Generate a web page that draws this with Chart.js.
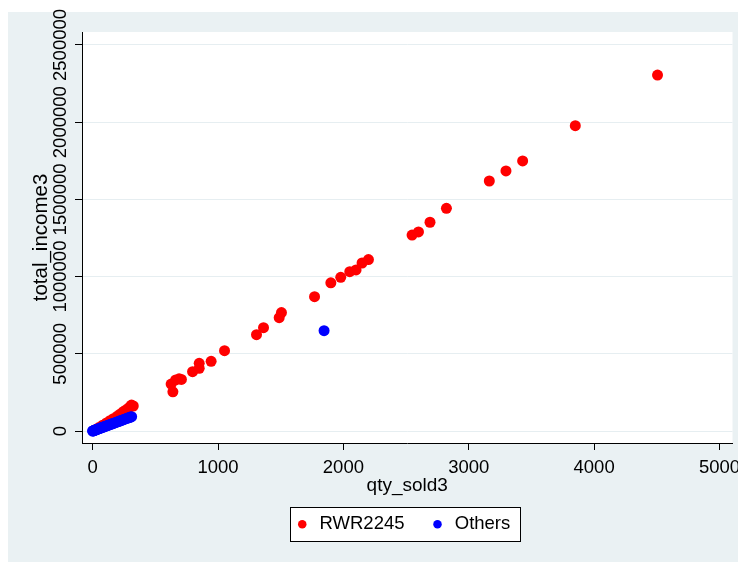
<!DOCTYPE html>
<html>
<head>
<meta charset="utf-8">
<script src="https://cdn.jsdelivr.net/npm/chart.js@4/dist/chart.umd.min.js"></script>
<style>
  html, body { margin: 0; padding: 0; background: #fff; }
  #c { display: block; }
</style>
</head>
<body>
<canvas id="c" width="738" height="562"></canvas>
<script>
// tick values
const xTicks = [0, 1000, 2000, 3000, 4000, 5000];
const yTicks = [0, 500000, 1000000, 1500000, 2000000, 2500000];

// RWR2245 (red)
const rwrQty = [4506, 3850, 3430, 3297, 3164, 2822, 2691, 2599, 2548, 2200,
    2149, 2101, 2051, 1979, 1900, 1770, 1506, 1488, 1363, 1307,
    1052, 945, 850, 850, 797, 708, 690, 662, 640, 626,
    324, 310, 300, 284, 262, 244, 220, 195, 165, 138,
    110, 80, 50, 20];
const rwrIncome = [2305000, 1977000, 1749000, 1684000, 1619000, 1442000, 1352000, 1289000, 1269000, 1110000,
    1088000, 1043000, 1032000, 995000, 960000, 870000, 767000, 734000, 669000, 624000,
    520000, 451000, 438000, 406000, 384000, 334000, 338000, 331000, 254000, 304000,
    162000, 168000, 158000, 147000, 134000, 125000, 110000, 95000, 80000, 67000,
    52000, 38000, 22000, 8000];

// Others (blue)
const otherQty = [0, 2, 5, 8, 12, 16, 20, 25, 30, 35,
    41, 48, 55, 62, 70, 78, 86, 95, 104, 113,
    122, 131, 140, 150, 160, 170, 180, 190, 200, 210,
    220, 232, 244, 256, 268, 280, 292, 302, 311, 1846];
const otherIncome = [0, 500, 1400, 2300, 3500, 4700, 6000, 7400, 9000, 10500,
    12300, 14500, 16400, 18700, 21000, 23500, 25800, 28400, 31300, 33800,
    36500, 39400, 42000, 45000, 48000, 51000, 54000, 57000, 60000, 63000,
    66000, 69500, 73000, 76800, 80500, 84000, 87500, 90500, 92600, 649600];

const FONT = "'Liberation Sans', Arial, sans-serif";

function toPoints(xs, ys) {
    return xs.map((x, i) => ({x: x, y: ys[i]}));
}

// graph region, white plot region and the legend frame
const backdrop = {
    id: 'backdrop',
    afterUpdate(chart) {
        // nudge the legend a little to the left, like the original
        const lg = chart.legend;
        if (!lg) return;
        lg.left -= 5;
        lg.right -= 5;
        lg.legendHitBoxes.forEach(h => { h.left -= 5; });
    },
    beforeDraw(chart) {
        const ctx = chart.ctx;
        const a = chart.chartArea;
        ctx.save();
        ctx.fillStyle = '#ffffff';
        ctx.fillRect(0, 0, chart.width, chart.height);
        ctx.fillStyle = '#eaf1f3';
        ctx.fillRect(8, 12, chart.width - 8, chart.height - 12);
        ctx.fillStyle = '#ffffff';
        ctx.fillRect(a.left, a.top, a.right - a.left, a.bottom - a.top);

        const boxes = chart.legend && chart.legend.legendHitBoxes;
        if (boxes && boxes.length) {
            const first = boxes[0];
            const last = boxes[boxes.length - 1];
            const cy = first.top + 9.25;
            const l = Math.round(first.left - 4) + 0.5;
            const r = Math.round(last.left + last.width + 10) + 0.5;
            const t = Math.round(cy - 17) + 0.5;
            const b = Math.round(cy + 17) + 0.5;
            ctx.fillRect(l, t, r - l, b - t);
            ctx.strokeStyle = '#000';
            ctx.lineWidth = 1;
            ctx.strokeRect(l, t, r - l, b - t);
        }
        ctx.restore();
    }
};

new Chart(document.getElementById('c'), {
    type: 'scatter',
    data: {
        datasets: [
            {
                label: 'RWR2245',
                data: toPoints(rwrQty, rwrIncome),
                backgroundColor: '#ff0000',
                borderColor: '#ff0000',
                pointRadius: 5.5,
                pointBorderWidth: 0,
                order: 2
            },
            {
                label: 'Others',
                data: toPoints(otherQty, otherIncome),
                backgroundColor: '#0000ff',
                borderColor: '#0000ff',
                pointRadius: 5.5,
                pointBorderWidth: 0,
                order: 1
            }
        ]
    },
    options: {
        responsive: false,
        animation: false,
        devicePixelRatio: 1,
        layout: {padding: {left: 8, top: 32, right: 5, bottom: 18.5}},
        plugins: {
            tooltip: {enabled: false},
            legend: {
                position: 'bottom',
                fullSize: false,
                labels: {
                    usePointStyle: true,
                    pointStyle: 'circle',
                    boxWidth: 16,
                    boxHeight: 6,
                    padding: 25,
                    color: '#000',
                    font: {family: FONT, size: 18.5},
                    sort: (a, b) => a.datasetIndex - b.datasetIndex
                }
            }
        },
        scales: {
            x: {
                type: 'linear',
                min: -85,
                max: 5104,
                afterBuildTicks: s => { s.ticks = xTicks.map(v => ({value: v})); },
                afterFit: s => { s.height = 47; s.paddingLeft = 0; s.paddingRight = 0; },
                ticks: {
                    autoSkip: false,
                    maxRotation: 0,
                    padding: 7,
                    color: '#000',
                    font: {family: FONT, size: 18.5},
                    callback: v => String(v)
                },
                grid: {drawOnChartArea: false, tickColor: '#000', tickLength: 7},
                border: {color: '#000'},
                title: {
                    display: true,
                    text: 'qty_sold3',
                    color: '#000',
                    font: {family: FONT, size: 19},
                    padding: {top: 0, bottom: -7.4}
                }
            },
            y: {
                type: 'linear',
                min: -77700,
                max: 2584000,
                afterBuildTicks: s => { s.ticks = yTicks.map(v => ({value: v})); },
                afterFit: s => { s.width = 74; s.paddingTop = 0; s.paddingBottom = 0; },
                ticks: {
                    autoSkip: false,
                    minRotation: 90,
                    maxRotation: 90,
                    crossAlign: 'center',
                    padding: -22,
                    color: '#000',
                    font: {family: FONT, size: 18.5},
                    callback: v => String(v)
                },
                grid: {color: '#e6eef1', tickColor: '#000', tickLength: 7},
                border: {color: '#000'},
                title: {
                    display: true,
                    text: 'total_income3',
                    color: '#000',
                    font: {family: FONT, size: 20.5},
                    padding: {top: 21, bottom: 0}
                }
            }
        }
    },
    plugins: [backdrop]
});
</script>
</body>
</html>
